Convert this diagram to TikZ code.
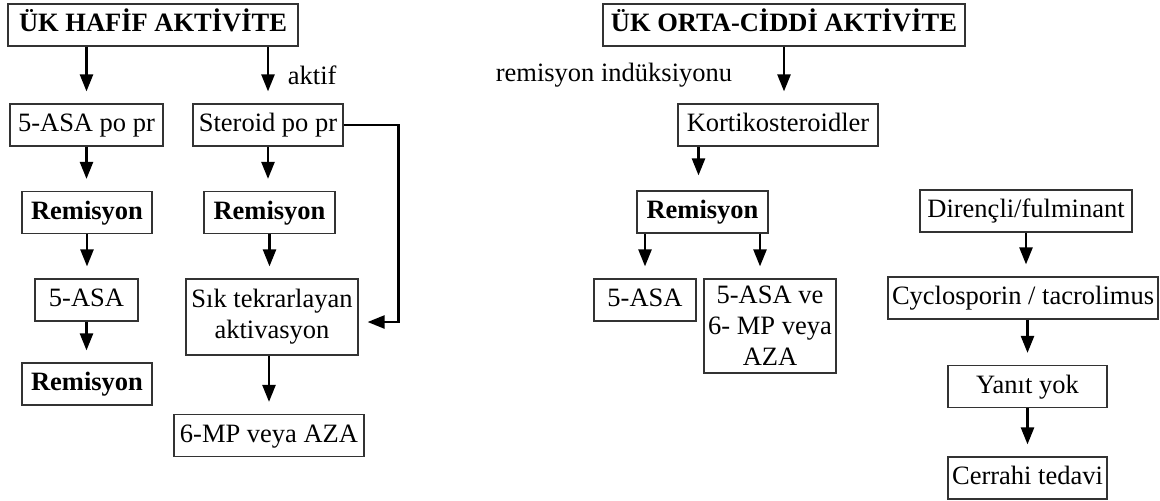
\documentclass[tikz,border=0pt]{standalone}
\usepackage{fontspec}
\setmainfont{Liberation Serif}
\usetikzlibrary{arrows.meta,calc}

\begin{document}
\begin{tikzpicture}[
            x = 0.5pt, y = -0.5pt, % grid in half points, y runs down
            frame/.style = {draw=black!80, line width=0.6pt, inner xsep=2pt,
                            font=\fontsize{13.25}{15.5}\selectfont},
            box/.style = {frame, inner ysep=0pt, minimum height=21pt,
                          text height=9.5pt, text depth=2.8pt},
            hdr/.style = {box, font=\fontsize{13.25}{15.5}\selectfont\bfseries},
            tall/.style = {frame, align=center, inner ysep=3pt},
            arr/.style = {-{Triangle[width=6.5pt,length=8.5pt]}, line width=1.2pt,
                          shorten > = 6pt}, % tip stops short of the box
            lbl/.style = {font=\fontsize{13.25}{15.5}\selectfont}
        ]
\useasboundingbox (0,0) rectangle (1160,500);

% mild activity
\node[hdr, minimum width=145pt] (hafif) at (153,25) {ÜK HAFİF AKTİVİTE};
\node[box, minimum width=76.5pt] (asapo) at (86.5,125) {5-ASA po pr};
\node[box, minimum width=75pt] (steroid) at (268,125) {Steroid po pr};
\node[hdr, minimum width=65pt] (remA) at (87,212.5) {Remisyon};
\node[hdr, minimum width=65.5pt] (remB) at (269.5,212.5) {Remisyon};
\node[box, minimum width=51.5pt] (asaA) at (86.5,300) {5-ASA};
\node[tall, minimum width=86pt, minimum height=38pt] (sik) at (272,317) {Sık tekrarlayan\\aktivasyon};
\node[hdr, minimum width=65pt] (remC) at (87,384) {Remisyon};
\node[box, minimum width=95pt] (mpaza) at (269,435.5) {6-MP veya AZA};

\draw[arr] (hafif.south -| asapo.north) -- (asapo.north);
\draw[arr] (hafif.south -| steroid.north) -- (steroid.north)
    node[lbl, midway, right=6pt] {aktif};
\draw[arr] (asapo.south) -- (asapo.south |- remA.north);
\draw[arr] (remA.south) -- (remA.south |- asaA.north);
\draw[arr] (asaA.south) -- (asaA.south |- remC.north);
\draw[arr] (steroid.south) -- (steroid.south |- remB.north);
\draw[arr] (remB.south) -- (remB.south |- sik.north);
\draw[arr] (sik.south -| mpaza.north) -- (mpaza.north);
\draw[arr, shorten > = 4.5pt] (steroid.east) -- ++(27.5pt,0) |- ([yshift=-2.5pt]sik.east);

% moderate to severe activity
\node[hdr, minimum width=181pt] (orta) at (784,25) {ÜK ORTA-CİDDİ AKTİVİTE};
\node[box, minimum width=100pt] (kort) at (778,125) {Kortikosteroidler};
\node[hdr, minimum width=65.5pt] (remD) at (702.5,212) {Remisyon};
\node[box, minimum width=51pt] (asaB) at (645,300) {5-ASA};
\node[tall, minimum width=66pt, minimum height=47pt] (asaMP) at (770,326) {5-ASA ve\\6- MP veya\\AZA};

\draw[arr] (orta.south) -- (orta.south |- kort.north)
    node[lbl, midway, left=22pt] {remisyon indüksiyonu};
\draw[arr, shorten > = 7.5pt] ($(remD.north |- kort.south)+(-2pt,0)$) -- ($(remD.north)+(-2pt,0)$);
\draw[arr] (remD.south -| asaB.north) -- (asaB.north);
\draw[arr] ($(remD.south -| asaMP.north)+(-5pt,0)$) -- ($(asaMP.north)+(-5pt,0)$);

% refractory branch
\node[box, minimum width=106pt] (dir) at (1026,211) {Dirençli/fulminant};
\node[box, minimum width=135pt] (cyc) at (1023,298) {Cyclosporin / tacrolimus};
\node[box, minimum width=79.5pt] (yanit) at (1027.5,386.5) {Yanıt yok};
\node[box, minimum width=79.5pt] (cerr) at (1027.5,478) {Cerrahi tedavi};

\draw[arr] (dir.south) -- (dir.south |- cyc.north);
\draw[arr] (yanit.north |- cyc.south) -- (yanit.north);
\draw[arr] (yanit.south) -- (cerr.north);
\end{tikzpicture}
\end{document}
